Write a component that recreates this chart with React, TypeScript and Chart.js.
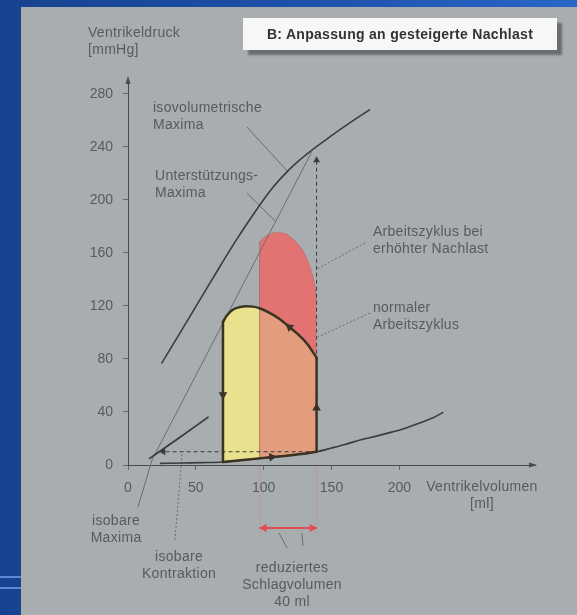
import React, { useEffect, useRef } from 'react';
import { Chart, registerables } from 'chart.js';
Chart.register(...registerables);

// ---------- data (ml, mmHg) ----------
const X_TICKS = [0, 50, 100, 150, 200];
const Y_TICKS = [0, 40, 80, 120, 160, 200, 240, 280];

const ISOVOL_MAX = [
  { x: 25, y: 77 }, { x: 45, y: 111 }, { x: 62, y: 140 }, { x: 80, y: 170 },
  { x: 95, y: 193 }, { x: 106, y: 208.5 }, { x: 117, y: 221 }, { x: 127, y: 230.5 },
  { x: 136, y: 238 }, { x: 150, y: 248.5 }, { x: 164, y: 258.5 }, { x: 178, y: 268 },
];
const SUPPORT_MAX = [{ x: 17.7, y: 3.8 }, { x: 135.3, y: 236 }];
const ISOBAR_MAX = [{ x: 16, y: 5 }, { x: 37, y: 20 }, { x: 59, y: 36 }];
const FILL_CURVE = [
  { x: 24, y: 1.2 }, { x: 40, y: 1.5 }, { x: 55, y: 1.8 }, { x: 70, y: 2.3 },
  { x: 85, y: 3.8 }, { x: 97, y: 5 }, { x: 115, y: 6.8 }, { x: 128, y: 8.3 },
  { x: 139, y: 10 }, { x: 150, y: 12.8 }, { x: 160, y: 15.5 }, { x: 171, y: 18.9 },
  { x: 183, y: 21.8 }, { x: 195, y: 25 }, { x: 205, y: 28 }, { x: 215, y: 31.7 },
  { x: 224, y: 35.2 }, { x: 232, y: 39.5 },
];
const NORMAL_TOP = [
  { x: 70, y: 108 }, { x: 73, y: 113 }, { x: 77, y: 117 }, { x: 82, y: 119 },
  { x: 87.5, y: 119.7 }, { x: 92, y: 119.5 }, { x: 97, y: 118.3 }, { x: 104, y: 115 },
  { x: 112, y: 110 }, { x: 119, y: 104 }, { x: 126, y: 98 }, { x: 132, y: 91.5 },
  { x: 139, y: 81 },
];
const NORMAL_LEFT = [{ x: 70, y: 2.3 }, { x: 70, y: 108 }];
const NORMAL_RIGHT = [{ x: 139, y: 10 }, { x: 139, y: 81 }];
const AFTERLOAD_TOP = [
  { x: 97, y: 168 }, { x: 100, y: 171.5 }, { x: 104, y: 174 }, { x: 109, y: 175.3 },
  { x: 114, y: 175 }, { x: 118, y: 173.5 }, { x: 121, y: 171 }, { x: 125, y: 167 },
  { x: 129, y: 161.5 }, { x: 132, y: 155 }, { x: 134.5, y: 148 }, { x: 136.5, y: 141 },
  { x: 138, y: 133 }, { x: 139, y: 122 },
];
const BOUNDARY = [{ x: 97, y: 5 }, { x: 97, y: 168 }];
const DASH_UP = [{ x: 139, y: 10 }, { x: 139, y: 230 }];
const DASH_LEFT = [{ x: 139, y: 10 }, { x: 26, y: 10 }];
const LOOP_ARROWS = [{ x: 70, y: 53 }, { x: 106, y: 6 }, { x: 139, y: 43 }, { x: 119, y: 104 }];
const LOOP_ARROW_ROT = [180, 84, 0, -51];
const SV_ARROW = [{ x: 97, y: -47.5 }, { x: 139, y: -47.5 }];
const SV_GUIDE_L = [{ x: 97, y: -1 }, { x: 97, y: -53 }];
const SV_GUIDE_R = [{ x: 139, y: -1 }, { x: 139, y: -53 }];

const LEADERS = [
  { pts: [{ x: 87.7, y: 255 }, { x: 117.2, y: 222 }], dash: false },
  { pts: [{ x: 87.7, y: 205.2 }, { x: 109.1, y: 183.4 }], dash: false },
  { pts: [{ x: 174.7, y: 167.5 }, { x: 139.3, y: 147.9 }], dash: true },
  { pts: [{ x: 178.3, y: 114.7 }, { x: 140, y: 96.6 }], dash: true },
  { pts: [{ x: 7.4, y: -31.7 }, { x: 17.7, y: 3.8 }], dash: false },
  { pts: [{ x: 34.6, y: -56.6 }, { x: 40, y: 10 }], dash: true },
  { pts: [{ x: 111.3, y: -51.3 }, { x: 117.2, y: -62.6 }], dash: false },
  { pts: [{ x: 128.2, y: -51.3 }, { x: 129, y: -61.1 }], dash: false },
];

const LABELS = [
  { lines: ['isovolumetrische', 'Maxima'], x: 18.4, y: 269.4, align: 'left' },
  { lines: ['Unterstützungs-', 'Maxima'], x: 19.9, y: 218.1, align: 'left' },
  { lines: ['Arbeitszyklus bei', 'erhöhter Nachlast'], x: 180.5, y: 175.8, align: 'left' },
  { lines: ['normaler', 'Arbeitszyklus'], x: 180.5, y: 118.5, align: 'left' },
  { lines: ['isobare', 'Maxima'], x: -8.8, y: -42.3, align: 'center' },
  { lines: ['isobare', 'Kontraktion'], x: 37.6, y: -69.4, align: 'center' },
  { lines: ['reduziertes', 'Schlagvolumen', '40 ml'], x: 120.9, y: -77.7, align: 'center' },
  { lines: ['Ventrikelvolumen', '[ml]'], x: 260.9, y: -16.6, align: 'center' },
  { lines: ['Ventrikeldruck', '[mmHg]'], x: -29.5, y: 326, align: 'left' },
];
const TITLE = 'B: Anpassung an gesteigerte Nachlast';

// ---------- styles ----------
const FONT_FAMILY = '"Liberation Sans", Arial, sans-serif';
const TEXT = '#575b5d';
const DARK = '#3c3c3c';
const LOOP = '#3a3322';
const YELLOW = '#e8e18e';
const ORANGE = '#e49c7e';
const RED = '#e37272';
const RED_ARROW = '#e04e52';
const LEADER = '#6a6d6f';

function tri(ctx: CanvasRenderingContext2D, x: number, y: number, dx: number, dy: number, len: number, half: number) {
  const nx = -dy, ny = dx;
  ctx.beginPath();
  ctx.moveTo(x, y);
  ctx.lineTo(x - dx * len + nx * half, y - dy * len + ny * half);
  ctx.lineTo(x - dx * len - nx * half, y - dy * len - ny * half);
  ctx.closePath();
  ctx.fill();
}

const overlay = {
  id: 'overlay',
  afterDraw(chart: any) {
    const { ctx, chartArea, scales } = chart;
    const xs = scales.x, ys = scales.y;
    ctx.save();
    ctx.fillStyle = '#4a4a4a';
    tri(ctx, chartArea.left, chartArea.top - 2, 0, -1, 8, 2.5);
    tri(ctx, chartArea.right + 2, chartArea.bottom, 1, 0, 8, 2.5);
    ctx.fillStyle = RED_ARROW;
    const ax0 = xs.getPixelForValue(SV_ARROW[0].x), ax1 = xs.getPixelForValue(SV_ARROW[1].x);
    const ay = ys.getPixelForValue(SV_ARROW[0].y);
    tri(ctx, ax0 - 1, ay, -1, 0, 8, 4);
    tri(ctx, ax1 + 1, ay, 1, 0, 8, 4);
    ctx.fillStyle = TEXT;
    ctx.font = '14px ' + FONT_FAMILY;
    (ctx as any).letterSpacing = '0.3px';
    ctx.textBaseline = 'middle';
    for (const lab of LABELS) {
      ctx.textAlign = lab.align;
      const px = xs.getPixelForValue(lab.x);
      const py = ys.getPixelForValue(lab.y);
      lab.lines.forEach((t, i) => ctx.fillText(t, px, py + i * 17));
    }
    ctx.restore();
  },
};

export default function App() {
  const ref = useRef<HTMLCanvasElement>(null);
  useEffect(() => {
    if (!ref.current) return;
    const base = { pointRadius: 0, borderWidth: 1, fill: false, clip: false, borderCapStyle: 'round' };
    const ds: any[] = [];
    ds.push({
      ...base, data: LOOP_ARROWS, showLine: false, pointStyle: 'triangle', pointRadius: 5,
      pointRotation: LOOP_ARROW_ROT, pointBackgroundColor: LOOP, pointBorderWidth: 0, borderColor: LOOP,
    });
    ds.push({ ...base, data: NORMAL_TOP, borderColor: LOOP, borderWidth: 2.5, cubicInterpolationMode: 'monotone' });
    ds.push({ ...base, data: NORMAL_LEFT, borderColor: LOOP, borderWidth: 2.5 });
    ds.push({ ...base, data: NORMAL_RIGHT, borderColor: LOOP, borderWidth: 2.5 });
    ds.push({
      ...base, data: FILL_CURVE.filter((p) => p.x >= 70 && p.x <= 139), borderColor: LOOP,
      borderWidth: 2.5, cubicInterpolationMode: 'monotone',
    });
    ds.push({
      ...base, data: DASH_UP, borderColor: DARK, borderDash: [4, 3], borderCapStyle: 'butt',
      pointStyle: 'triangle', pointRadius: (c: any) => (c.dataIndex === 1 ? 4 : 0),
      pointBackgroundColor: DARK, pointBorderWidth: 0,
    });
    ds.push({
      ...base, data: DASH_LEFT, borderColor: DARK, borderDash: [4, 3], borderCapStyle: 'butt',
      pointStyle: 'triangle', pointRotation: -90, pointRadius: (c: any) => (c.dataIndex === 1 ? 4 : 0),
      pointBackgroundColor: DARK, pointBorderWidth: 0,
    });
    ds.push({ ...base, data: ISOBAR_MAX, borderColor: DARK, borderWidth: 1.8, cubicInterpolationMode: 'monotone' });
    ds.push({ ...base, data: ISOVOL_MAX, borderColor: DARK, borderWidth: 1.6, tension: 0.4 });
    ds.push({ ...base, data: SUPPORT_MAX, borderColor: '#6b6e70', borderWidth: 1 });
    const FILL_IDX = ds.length;
    ds.push({ ...base, data: FILL_CURVE, borderColor: DARK, borderWidth: 1.6, cubicInterpolationMode: 'monotone' });
    ds.push({ ...base, data: BOUNDARY, borderColor: 'rgba(175,70,60,0.55)', borderWidth: 1 });
    ds.push({
      ...base, data: NORMAL_TOP.filter((p) => p.x <= 97), borderWidth: 0, borderColor: 'rgba(0,0,0,0)',
      fill: FILL_IDX, backgroundColor: YELLOW, cubicInterpolationMode: 'monotone',
    });
    ds.push({
      ...base, data: NORMAL_TOP.filter((p) => p.x >= 97), borderWidth: 0, borderColor: 'rgba(0,0,0,0)',
      fill: FILL_IDX, backgroundColor: ORANGE, cubicInterpolationMode: 'monotone',
    });
    ds.push({
      ...base, data: AFTERLOAD_TOP, borderWidth: 1, borderColor: 'rgba(195,85,85,0.5)',
      fill: FILL_IDX, backgroundColor: RED, cubicInterpolationMode: 'monotone',
    });
    ds.push({ ...base, data: SV_GUIDE_L, borderColor: 'rgba(215,120,120,0.7)', borderDash: [2, 2], borderCapStyle: 'butt' });
    ds.push({ ...base, data: SV_GUIDE_R, borderColor: 'rgba(215,120,120,0.7)', borderDash: [2, 2], borderCapStyle: 'butt' });
    ds.push({ ...base, data: SV_ARROW, borderColor: RED_ARROW, borderWidth: 2, borderCapStyle: 'butt' });
    LEADERS.forEach((l) =>
      ds.push({ ...base, data: l.pts, borderColor: LEADER, borderDash: l.dash ? [2, 2] : [], borderCapStyle: 'butt' })
    );

    const tickFont = { family: FONT_FAMILY, size: 14 };
    const chart = new Chart(ref.current, {
      type: 'line',
      data: { datasets: ds },
      options: {
        animation: false,
        responsive: false,
        events: [],
        layout: { padding: { left: 0, right: 42, top: 78, bottom: 0 } },
        plugins: { legend: { display: false }, tooltip: { enabled: false } },
        scales: {
          x: {
            type: 'linear', min: 0, max: 300,
            afterBuildTicks: (s: any) => { s.ticks = X_TICKS.map((v) => ({ value: v })); },
            afterFit: (s: any) => { s.height = 150; },
            grid: { drawOnChartArea: false, drawTicks: true, tickLength: 5, color: '#666' },
            border: { display: true, color: '#4a4a4a', width: 1 },
            ticks: { color: TEXT, font: tickFont, padding: 10, maxRotation: 0 },
          },
          y: {
            type: 'linear', min: 0, max: 292,
            afterBuildTicks: (s: any) => { s.ticks = Y_TICKS.map((v) => ({ value: v })); },
            afterFit: (s: any) => { s.width = 128; },
            grid: { drawOnChartArea: false, drawTicks: true, tickLength: 5, color: '#666' },
            border: { display: true, color: '#4a4a4a', width: 1 },
            ticks: { color: TEXT, font: tickFont, padding: 10 },
          },
        },
      },
      plugins: [overlay],
    } as any);
    return () => chart.destroy();
  }, []);

  return (
    <div style={{ position: 'fixed', left: 0, top: 0, width: 577, height: 615, overflow: 'hidden',
      background: 'linear-gradient(to right, #17428f 0%, #1d50a8 50%, #2966c8 100%)' }}>
      <div style={{ position: 'absolute', left: 0, top: 576, width: 21, height: 2, background: '#5a88d8' }} />
      <div style={{ position: 'absolute', left: 0, top: 587, width: 21, height: 2, background: '#5a88d8' }} />
      <div style={{ position: 'absolute', left: 21, top: 7, right: 0, bottom: 0, background: '#a8adb0' }} />
      <canvas ref={ref} width={577} height={615} style={{ position: 'absolute', left: 0, top: 0 }} />
      <div style={{ position: 'absolute', left: 243, top: 18, width: 314, height: 32, background: '#f7f7f7',
        boxShadow: '5px 5px 2px rgba(85,88,90,0.75)', display: 'flex', alignItems: 'center', justifyContent: 'center',
        font: 'bold 14px ' + FONT_FAMILY, letterSpacing: '0.3px', color: '#333' }}>{TITLE}</div>
    </div>
  );
}
